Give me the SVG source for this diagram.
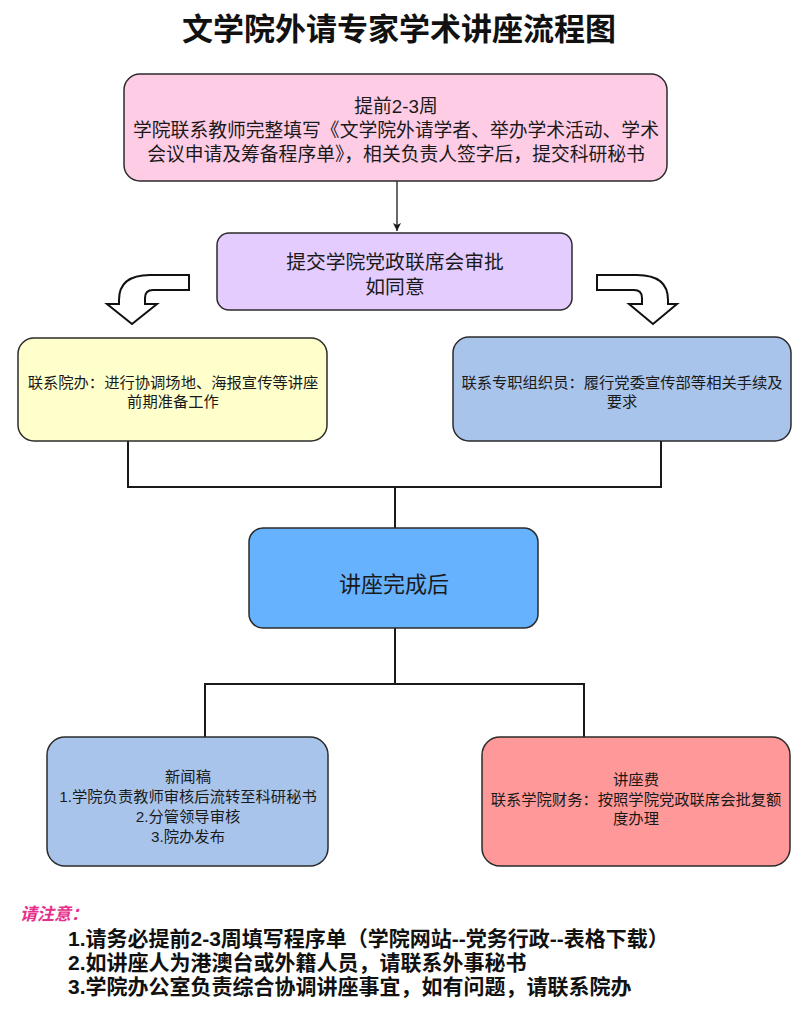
<svg xmlns="http://www.w3.org/2000/svg" width="799" height="1009" viewBox="0 0 799 1009">
<defs>
<style>
text{font-family:"Liberation Sans","Noto Sans CJK SC",sans-serif;fill:#1a1a1a;text-anchor:middle}
.box{stroke:#2b2b2b;stroke-width:1.5}
.c{fill:none;stroke:#1a1a1a;stroke-width:2}
.t15{font-size:15.3px}
.note{font-size:21px;font-weight:bold;text-anchor:start;fill:#111}
.bend{fill:#fff;stroke:#111;stroke-width:2;stroke-linejoin:miter}
</style>
<marker id="ah" markerWidth="10" markerHeight="10" refX="8" refY="5" orient="auto" markerUnits="userSpaceOnUse">
<path d="M0,1 L8,5 L0,9 L2,5 Z" fill="#1a1a1a"/>
</marker>
</defs>
<rect width="799" height="1009" fill="#fff"/>
<text x="399" y="40" style="font-size:31px;font-weight:bold;fill:#111">文学院外请专家学术讲座流程图</text>

<g id="connectors">
<path class="c" d="M397,181 V231" marker-end="url(#ah)" style="stroke-width:1.3"/>
<path class="c" d="M128,441 V487 H661 V441"/>
<path class="c" d="M395,487 V528"/>
<path class="c" d="M395,628 V684"/>
<path class="c" d="M205,737 V684 H584 V737"/>
<path class="bend" d="M189,275 L150,275 Q119,275 119,300 L119,304 L107,304 L132,324 L157,304 L145,304 L145,298 Q145,290 153,290 L189,290 Z"/>
<path class="bend" d="M597,275 L637,275 Q668,275 668,300 L668,304 L677,304 L653,324 L629,304 L642,304 L642,298 Q642,290 634,290 L597,290 Z"/>
</g>

<g id="node-apply">
<rect class="box" x="124" y="74" width="543" height="107" rx="16" fill="#FFCCE6"/>
<text x="396" y="113" style="font-size:18.8px">提前2-3周</text>
<text x="396" y="137" style="font-size:18.8px">学院联系教师完整填写《文学院外请学者、举办学术活动、学术</text>
<text x="396" y="161" style="font-size:18.8px">会议申请及筹备程序单》，相关负责人签字后，提交科研秘书</text>
</g>

<g id="node-approve">
<rect class="box" x="217" y="233" width="355" height="77" rx="12" fill="#E5CCFF"/>
<text x="395" y="269" style="font-size:19.8px">提交学院党政联席会审批</text>
<text x="395" y="294" style="font-size:19.8px">如同意</text>
</g>

<g id="node-office">
<rect class="box" x="18" y="338" width="309" height="103" rx="16" fill="#FFFFCC"/>
<text class="t15" x="173" y="388">联系院办：进行协调场地、海报宣传等讲座</text>
<text class="t15" x="173" y="407">前期准备工作</text>
</g>

<g id="node-organizer">
<rect class="box" x="453" y="337" width="338" height="104" rx="16" fill="#A9C4EB"/>
<text class="t15" x="622" y="388">联系专职组织员：履行党委宣传部等相关手续及</text>
<text class="t15" x="622" y="407">要求</text>
</g>

<g id="node-after">
<rect class="box" x="249" y="528" width="289" height="100" rx="14" fill="#66B2FF"/>
<text x="394" y="592" style="font-size:22px">讲座完成后</text>
</g>

<g id="node-news">
<rect class="box" x="47" y="737" width="281" height="129" rx="18" fill="#A9C4EB"/>
<text class="t15" x="188" y="782">新闻稿</text>
<text class="t15" x="188" y="802">1.学院负责教师审核后流转至科研秘书</text>
<text class="t15" x="188" y="822">2.分管领导审核</text>
<text class="t15" x="188" y="842">3.院办发布</text>
</g>

<g id="node-fee">
<rect class="box" x="482" y="737" width="308" height="129" rx="18" fill="#FF9999"/>
<text class="t15" x="636" y="785">讲座费</text>
<text class="t15" x="636" y="805">联系学院财务：按照学院党政联席会批复额</text>
<text class="t15" x="636" y="824">度办理</text>
</g>

<g id="notes">
<text x="20" y="920" style="font-size:17px;font-weight:bold;font-style:italic;fill:#E62E8B;text-anchor:start">请注意：</text>
<text class="note" x="68" y="946">1.请务必提前2-3周填写程序单（学院网站--党务行政--表格下载）</text>
<text class="note" x="68" y="970">2.如讲座人为港澳台或外籍人员，请联系外事秘书</text>
<text class="note" x="68" y="994">3.学院办公室负责综合协调讲座事宜，如有问题，请联系院办</text>
</g>
</svg>
